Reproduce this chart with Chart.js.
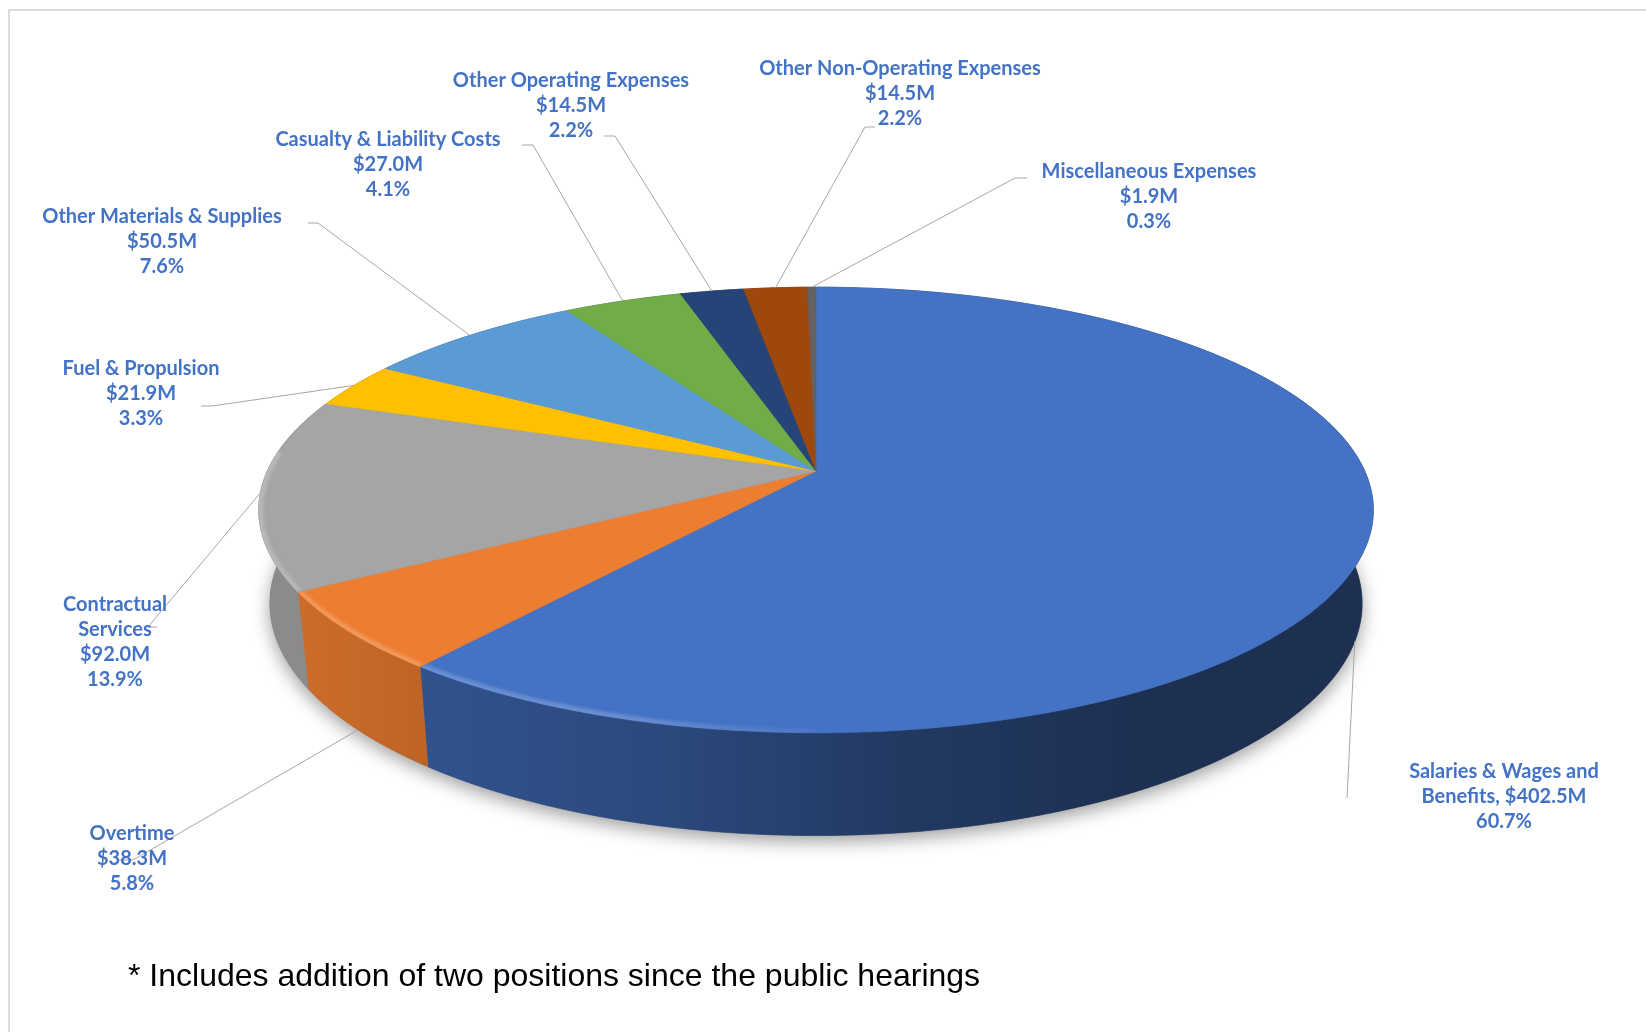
<!DOCTYPE html>
<html>
<head>
<meta charset="utf-8">
<title>Operating expenses</title>
<script src="https://cdn.jsdelivr.net/npm/chart.js@4/dist/chart.umd.js"></script>
<style>
    html, body { margin: 0; padding: 0; background: #fff; }
    #frame { position: absolute; left: 8px; top: 9px; right: 0; bottom: 0; border-left: 2px solid #dcdcdc; border-top: 2px solid #dcdcdc; }
    #pie { position: absolute; left: 0; top: 0; }
</style>
</head>
<body>
<div id="frame"></div>
<canvas id="pie" width="1646" height="1032"></canvas>
<script>
var categories = ['Salaries & Wages and Benefits', 'Overtime', 'Contractual Services', 'Fuel & Propulsion',
    'Other Materials & Supplies', 'Casualty & Liability Costs', 'Other Operating Expenses',
    'Other Non-Operating Expenses', 'Miscellaneous Expenses'];
var expenses = [402.5, 38.3, 92.0, 21.9, 50.5, 27.0, 14.5, 14.5, 1.9];
var shares = [60.7, 5.8, 13.9, 3.3, 7.6, 4.1, 2.2, 2.2, 0.3];
var sliceColors = ['#4472C4', '#ED7D31', '#A5A5A5', '#FFC000', '#5B9BD5', '#70AD47', '#264478', '#9E480E', '#636363'];

// how dark the side wall gets, left to right across each slice
var wallShades = [[0.72, 0.64, 0.5, 0.42, 0.42], [0.86, 0.8], [0.84, 0.84], [0.6], [0.6], [0.6], [0.6], [0.6], [0.6]];

// label block centre, first line centre, wrapped name, leader elbow and stub end
var labelSpots = [
    { x: 1504, y: 772, lines: ['Salaries & Wages and', 'Benefits, $402.5M', '60.7%'], elbow: [1347, 798] },
    { x: 132, y: 834, elbow: [133, 860], stub: 117 },
    { x: 115, y: 605, lines: ['Contractual', 'Services', '$92.0M', '13.9%'], elbow: [148, 627], stub: 157 },
    { x: 141, y: 369, elbow: [212, 406], stub: 201 },
    { x: 162, y: 217, elbow: [318, 223], stub: 308 },
    { x: 388, y: 140, elbow: [533, 145], stub: 522 },
    { x: 571, y: 81, elbow: [615, 136], stub: 604 },
    { x: 900, y: 69, elbow: [865, 127], stub: 875 },
    { x: 1149, y: 172, elbow: [1015, 178], stub: 1027 }
];

// tilted disc: widths and heights relative to the pie radius
var tilt = { k: 0.175, ax: 1.165, by: 0.4586, baseX: 0.98, baseY: 0.4777, depth: 0.195 };

function project(el, angle, onBase) {
    var u = Math.cos(angle), v = Math.sin(angle);
    var w = 1 - tilt.k * v;
    var r = el.outerRadius;
    if (onBase) {
        return [el.x + r * tilt.ax * tilt.baseX * u / w, el.y + r * tilt.depth + r * tilt.baseY * v / w];
    }
    return [el.x + r * tilt.ax * u / w, el.y + r * tilt.by * v / w];
}

function rimPoints(el, from, to, onBase) {
    var steps = Math.max(2, Math.ceil(Math.abs(to - from) / 0.008));
    var pts = [];
    for (var i = 0; i <= steps; i++) {
        pts.push(project(el, from + (to - from) * i / steps, onBase));
    }
    return pts;
}

function tracePoints(ctx, pts, joined) {
    pts.forEach(function(p, i) {
        if (i === 0 && !joined) ctx.moveTo(p[0], p[1]);
        else ctx.lineTo(p[0], p[1]);
    });
}

function hexToRgb(hex) {
    return [parseInt(hex.substr(1, 2), 16), parseInt(hex.substr(3, 2), 16), parseInt(hex.substr(5, 2), 16)];
}

function shade(hex, f) {
    return 'rgb(' + hexToRgb(hex).map(function(c) { return Math.round(c * f); }).join(',') + ')';
}

function lighten(hex, f, alpha) {
    return 'rgba(' + hexToRgb(hex).map(function(c) { return Math.round(c + (255 - c) * f); }).join(',') + ',' + alpha + ')';
}

// pie slice drawn on the tilted disc, angles still come from the controller
class TiltedArc extends Chart.registry.getElement('arc') {
    static id = 'tiltedArc';

    draw(ctx) {
        var fill = this.options.backgroundColor;
        var rim = rimPoints(this, this.startAngle, this.endAngle, false);

        ctx.save();
        ctx.beginPath();
        ctx.moveTo(this.x, this.y);
        tracePoints(ctx, rim, true);
        ctx.closePath();
        ctx.fillStyle = fill;
        ctx.fill();
        ctx.strokeStyle = fill;
        ctx.lineWidth = 0.6;
        ctx.stroke();

        // soft bevel along the front left edge
        var from = Math.max(this.startAngle, Math.PI * 0.5);
        var to = Math.min(this.endAngle, Math.PI * 1.03);
        if (to > from) {
            ctx.clip();
            var grad = ctx.createLinearGradient(260, 0, 860, 0);
            grad.addColorStop(0, lighten(fill, 0.2, 1));
            grad.addColorStop(0.6, lighten(fill, 0.2, 1));
            grad.addColorStop(1, lighten(fill, 0.2, 0));
            ctx.filter = 'blur(1.5px)';
            ctx.beginPath();
            tracePoints(ctx, rimPoints(this, from, to, false));
            ctx.strokeStyle = grad;
            ctx.lineWidth = 9;
            ctx.stroke();
        }
        ctx.restore();
    }
}

class TiltedPieController extends Chart.registry.getController('pie') {
    static id = 'tiltedPie';
    static defaults = { dataElementType: 'tiltedArc' };
}

Chart.register(TiltedArc, TiltedPieController);

// cast shadow and side walls go under the slices
var discWalls = {
    id: 'discWalls',
    beforeDatasetsDraw: function(chart) {
        var ctx = chart.ctx;
        var arcs = chart.getDatasetMeta(0).data;

        ctx.save();
        ctx.beginPath();
        tracePoints(ctx, rimPoints(arcs[0], 0, Math.PI * 2, true));
        ctx.closePath();
        ctx.shadowColor = 'rgba(0,0,0,0.38)';
        ctx.shadowBlur = 18;
        ctx.shadowOffsetY = 6;
        ctx.fillStyle = '#777';
        ctx.fill();
        ctx.restore();

        arcs.forEach(function(arc, i) {
            var top = rimPoints(arc, arc.startAngle, arc.endAngle, false);
            var base = rimPoints(arc, arc.endAngle, arc.startAngle, true);
            var xs = top.concat(base).map(function(p) { return p[0]; });
            var grad = ctx.createLinearGradient(Math.min.apply(null, xs), 0, Math.max.apply(null, xs), 0);
            var shades = wallShades[i];
            shades.forEach(function(f, s) {
                grad.addColorStop(shades.length > 1 ? s / (shades.length - 1) : 0, shade(sliceColors[i], f));
            });
            ctx.beginPath();
            tracePoints(ctx, top);
            tracePoints(ctx, base, true);
            ctx.closePath();
            ctx.fillStyle = grad;
            ctx.strokeStyle = grad;
            ctx.lineWidth = 0.6;
            ctx.fill();
            ctx.stroke();
        });
    }
};

// leader lines, data labels and the footnote
var labelsAndNote = {
    id: 'labelsAndNote',
    afterDatasetsDraw: function(chart) {
        var ctx = chart.ctx;
        var arcs = chart.getDatasetMeta(0).data;

        ctx.save();
        arcs.forEach(function(arc, i) {
            var spot = labelSpots[i];
            var mid = (arc.startAngle + arc.endAngle) / 2;
            // slices at the front get their leader from under the wall
            var start = project(arc, mid, Math.sin(mid) > 0.2);
            ctx.beginPath();
            ctx.moveTo(start[0], start[1]);
            ctx.lineTo(spot.elbow[0], spot.elbow[1]);
            if (spot.stub) ctx.lineTo(spot.stub, spot.elbow[1]);
            ctx.strokeStyle = '#a6a6a6';
            ctx.lineWidth = 1;
            ctx.stroke();
        });

        ctx.font = '700 20px Lato, Carlito, sans-serif';
        ctx.fillStyle = '#4472C4';
        ctx.textAlign = 'center';
        ctx.textBaseline = 'middle';
        arcs.forEach(function(arc, i) {
            var spot = labelSpots[i];
            var lines = spot.lines || [categories[i], '$' + expenses[i].toFixed(1) + 'M', shares[i].toFixed(1) + '%'];
            lines.forEach(function(line, n) {
                ctx.fillText(line, spot.x, spot.y + n * 25);
            });
        });

        ctx.font = '32px "Liberation Sans", Arial, sans-serif';
        ctx.fillStyle = '#000';
        ctx.textAlign = 'left';
        ctx.fillText('* Includes addition of two positions since the public hearings', 128, 977);
        ctx.restore();
    }
};

new Chart(document.getElementById('pie'), {
    type: 'tiltedPie',
    data: {
        labels: categories,
        datasets: [{
            data: expenses,
            backgroundColor: sliceColors,
            borderWidth: 0
        }]
    },
    options: {
        responsive: false,
        animation: false,
        events: [],
        layout: { padding: { right: 14, bottom: 90 } },
        plugins: {
            legend: { display: false },
            tooltip: { enabled: false }
        }
    },
    plugins: [discWalls, labelsAndNote]
});
</script>
</body>
</html>
